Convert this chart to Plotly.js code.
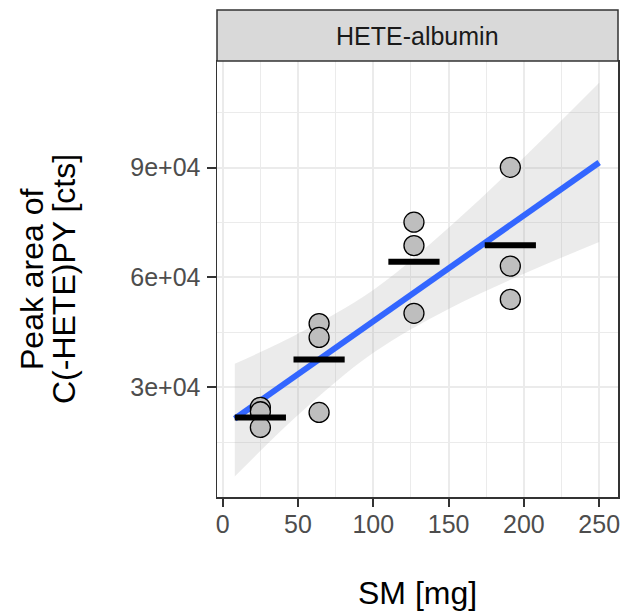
<!DOCTYPE html>
<html>
<head>
<meta charset="utf-8">
<script src="https://cdn.plot.ly/plotly-3.0.1.min.js"></script>
<style>html,body{margin:0;padding:0;background:#fff}#chart{width:630px;height:613px}</style>
</head>
<body>
<div id="chart"></div>
<script>
// ---- data ----
const pointX = [25, 25, 25, 64, 64, 64, 127, 127, 127, 191, 191, 191];
const pointY = [24500, 23300, 19000, 47400, 43600, 23100, 75100, 68700, 50200, 90100, 63100, 54000];
const groupX = [25, 64, 127, 191];
const groupMean = [21700, 37600, 64300, 68800];
const fitX = [8, 250];
const fitY = [21400, 91400];
const bandX = [8, 50, 100, 150, 200, 250];
const bandUpper = [36400, 44600, 56600, 73600, 92800, 113200];
const bandLower = [5600, 22400, 39400, 51400, 61000, 69700];
const xTicks = [0, 50, 100, 150, 200, 250];
const yTicks = [30000, 60000, 90000];
const yTickLabels = ['3e+04', '6e+04', '9e+04'];
const panelTitle = 'HETE-albumin';
const xTitle = 'SM [mg]';
const yTitleLines = ['Peak area of', 'C(-HETE)PY [cts]'];

// ---- build mean bars ----
const halfW = 17;
const barX = [], barY = [];
groupX.forEach((g, i) => { barX.push(g - halfW, g + halfW, null); barY.push(groupMean[i], groupMean[i], null); });

const font = 'Liberation Sans, Arial, sans-serif';
const traces = [
  {x: bandX, y: bandLower, mode: 'lines', line: {width: 0, color: 'rgba(0,0,0,0)', shape: 'spline'}, hoverinfo: 'skip', showlegend: false},
  {x: bandX, y: bandUpper, mode: 'lines', line: {width: 0, color: 'rgba(0,0,0,0)', shape: 'spline'}, fill: 'tonexty', fillcolor: 'rgba(153,153,153,0.2)', hoverinfo: 'skip', showlegend: false},
  {x: fitX, y: fitY, mode: 'lines', line: {color: '#3366FF', width: 6}, showlegend: false},
  {x: pointX, y: pointY, mode: 'markers', marker: {size: 20, color: '#BEBEBE', line: {color: '#000000', width: 1.3}}, showlegend: false},
  {x: barX, y: barY, mode: 'lines', line: {color: '#000000', width: 6}, connectgaps: false, showlegend: false}
];

const layout = {
  width: 630, height: 613,
  margin: {l: 217, r: 12, t: 61, b: 116},
  paper_bgcolor: '#ffffff', plot_bgcolor: '#ffffff',
  font: {family: font, color: '#4D4D4D'},
  xaxis: {
    range: [-3.8, 262.5], tickvals: xTicks, ticks: 'outside', ticklen: 8, tickwidth: 2, tickcolor: '#333333',
    tickfont: {size: 25, color: '#4D4D4D', family: font}, ticklabelstandoff: -4,
    showgrid: true, gridcolor: '#EBEBEB', gridwidth: 2, zeroline: false,
    showline: true, mirror: true, linecolor: '#333333', linewidth: 1.5,
    minor: {tickvals: [25, 75, 125, 175, 225], showgrid: true, gridcolor: '#EBEBEB', gridwidth: 1, ticks: ''}
  },
  yaxis: {
    range: [0, 119150], tickvals: yTicks, ticktext: yTickLabels, ticks: 'outside', ticklen: 9, tickwidth: 2, tickcolor: '#333333',
    tickfont: {size: 25, color: '#4D4D4D', family: font}, ticklabelstandoff: 1,
    showgrid: true, gridcolor: '#EBEBEB', gridwidth: 2, zeroline: false,
    showline: true, mirror: true, linecolor: '#333333', linewidth: 1.5,
    minor: {tickvals: [15000, 45000, 75000, 105000], showgrid: true, gridcolor: '#EBEBEB', gridwidth: 1, ticks: ''}
  },
  shapes: [
    {type: 'rect', xref: 'paper', yref: 'paper', x0: 0, x1: 1, y0: 1.0, y1: 1 + 51/436, fillcolor: '#D9D9D9', line: {color: '#333333', width: 1.5}}
  ],
  annotations: [
    {text: panelTitle, xref: 'paper', yref: 'paper', x: 0.5, y: 1 + 25.5/436, xanchor: 'center', yanchor: 'middle', showarrow: false, font: {size: 25, color: '#1A1A1A', family: font}},
    {text: xTitle, xref: 'paper', yref: 'paper', x: 0.5, y: -(593 - 497)/436, xanchor: 'center', yanchor: 'middle', showarrow: false, font: {size: 32, color: '#000000', family: font}},
    {text: yTitleLines[0], xref: 'paper', yref: 'paper', x: (32 - 217)/401, y: 0.5, xanchor: 'center', yanchor: 'middle', textangle: -90, showarrow: false, font: {size: 32, color: '#000000', family: font}},
    {text: yTitleLines[1], xref: 'paper', yref: 'paper', x: (64 - 217)/401, y: 0.5, xanchor: 'center', yanchor: 'middle', textangle: -90, showarrow: false, font: {size: 32, color: '#000000', family: font}}
  ]
};
Plotly.newPlot('chart', traces, layout, {displayModeBar: false, staticPlot: true});
</script>
</body>
</html>
